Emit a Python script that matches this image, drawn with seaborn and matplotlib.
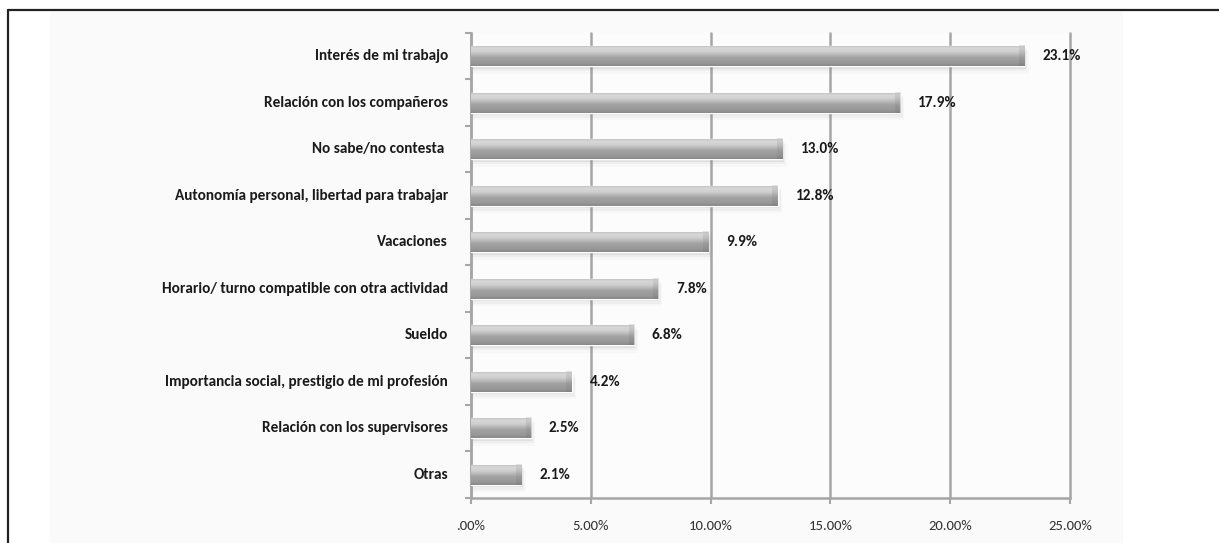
import numpy as np
import pandas as pd
import matplotlib
matplotlib.use("Agg")
import matplotlib.pyplot as plt
from matplotlib import font_manager
from matplotlib.patches import Rectangle
from matplotlib.lines import Line2D
from matplotlib.colors import LinearSegmentedColormap
from matplotlib.transforms import blended_transform_factory, offset_copy
import seaborn as sns

categories = [
    "Interés de mi trabajo",
    "Relación con los compañeros",
    "No sabe/no contesta ",
    "Autonomía personal, libertad para trabajar",
    "Vacaciones",
    "Horario/ turno compatible con otra actividad",
    "Sueldo",
    "Importancia social, prestigio de mi profesión",
    "Relación con los supervisores",
    "Otras",
]
values = [23.1, 17.9, 13.0, 12.8, 9.9, 7.8, 6.8, 4.2, 2.5, 2.1]
xticks = [0, 5, 10, 15, 20, 25]
xtick_labels = [".00%", "5.00%", "10.00%", "15.00%", "20.00%", "25.00%"]

df = pd.DataFrame({"cat": categories, "val": values})

sns.set_theme(style="white")

# pick a narrow, Calibri-like family if one is installed
names = {f.name for f in font_manager.fontManager.ttflist}
narrow = None
for cand in ["Carlito", "Liberation Sans Narrow", "Roboto Condensed",
             "Open Sans Condensed"]:
    if cand in names:
        narrow = cand
        break
if narrow:
    bold_family = [narrow, "DejaVu Sans"]
    bold_size = 11
    reg_family = [narrow, "DejaVu Sans"]
else:
    bold_family = ["Lato", "DejaVu Sans"]
    bold_size = 9.6
    reg_family = ["Lato", "DejaVu Sans"]
plt.rcParams["font.family"] = reg_family

W, H = 1219, 543
fig = plt.figure(figsize=(W / 100, H / 100), dpi=100)
fig.patch.set_facecolor("white")

# light panel background
fig.add_artist(Rectangle((50 / W, 0), (1123 - 50) / W, (H - 12) / H,
                         transform=fig.transFigure, facecolor="#fafafa",
                         edgecolor="none", zorder=0))
# outer frame lines (top and left)
fig.add_artist(Line2D([8 / W, 1.0], [(H - 10) / H, (H - 10) / H],
                      transform=fig.transFigure, color="#222222", lw=1.6))
fig.add_artist(Line2D([8 / W, 8 / W], [0, (H - 10) / H],
                      transform=fig.transFigure, color="#222222", lw=1.6))

ax = fig.add_axes([471 / W, 45 / H, (1070 - 471) / W, (498 - 33) / H])
ax.set_facecolor("#fcfcfc")

sns.barplot(data=df, x="val", y="cat", orient="h", color="#b0b0b0",
            width=0.44, ax=ax, zorder=3, saturation=1)

ax.set_xlim(0, 25)
ax.set_ylim(len(categories) - 0.5, -0.5)

# gradient overlay for 3D look
cmap = LinearSegmentedColormap.from_list(
    "bevel",
    [(0.0, "#bdbdbd"), (0.15, "#d8d8d8"), (0.32, "#cfcfcf"),
     (0.6, "#a2a2a2"), (0.85, "#989898"), (1.0, "#8a8a8a")])
capmap = LinearSegmentedColormap.from_list(
    "cap", [(0, "#c8c8c8"), (0.5, "#9a9a9a"), (1, "#7a7a7a")])
grad = np.linspace(0, 1, 64).reshape(-1, 1)
for p in list(ax.patches):
    x0, y0 = p.get_x(), p.get_y()
    w, h = p.get_width(), p.get_height()
    # soft shadow
    for k, a in enumerate([0.10, 0.06, 0.035]):
        ax.add_patch(Rectangle((x0, y0 + h * 0.12 + k * 0.03),
                               w + 0.06 + k * 0.06, h * (1.0 + 0.05 * k),
                               facecolor="#707070", edgecolor="none",
                               alpha=a, zorder=2))
    im = ax.imshow(grad, cmap=cmap, aspect="auto",
                   extent=(x0, x0 + w, y0 + h, y0), zorder=4,
                   interpolation="bilinear")
    im.set_clip_path(p)
    cap = 0.22
    ax.imshow(grad, cmap=capmap, aspect="auto",
              extent=(x0 + w - cap, x0 + w, y0 + h, y0),
              zorder=5, interpolation="bilinear", alpha=0.45)
    ax.annotate(f"{w:.1f}%", xy=(x0 + w, y0 + h / 2), xytext=(13, 0),
                textcoords="offset points", va="center", ha="left",
                fontsize=bold_size, fontweight="bold", color="#1a1a1a",
                family=bold_family, zorder=6)

ax.set_xticks(xticks)
ax.set_xticklabels(xtick_labels, fontsize=10.5, color="#333333")
ax.grid(axis="x", color="#a6a6a6", lw=1.8, zorder=1)
ax.grid(axis="y", visible=False)
for gl in ax.xaxis.get_gridlines():
    gl.set_clip_on(False)
ax.set_xlabel("")
ax.set_ylabel("")

for s in ["top", "right"]:
    ax.spines[s].set_visible(False)
for s in ["left", "bottom"]:
    ax.spines[s].set_color("#a6a6a6")
    ax.spines[s].set_linewidth(1.8)

# category labels drawn at a fixed pixel offset left of the axis
ax.set_yticklabels([])
ax.tick_params(axis="y", which="major", length=0)
trans = offset_copy(blended_transform_factory(ax.transAxes, ax.transData),
                    fig=fig, x=-23, y=0, units="dots")
for i, c in enumerate(categories):
    ax.text(0, i, c, transform=trans, ha="right", va="center",
            fontsize=bold_size, fontweight="bold", color="#1a1a1a",
            family=bold_family)

ax.set_yticks(np.arange(-0.5, len(categories), 1), minor=True)
ax.tick_params(axis="y", which="minor", length=4, width=1.5, color="#a6a6a6",
               left=True)
ax.tick_params(axis="x", which="major", length=4, width=1.5, color="#a6a6a6",
               bottom=True, pad=12)

fig.savefig("out.png", dpi=100)
